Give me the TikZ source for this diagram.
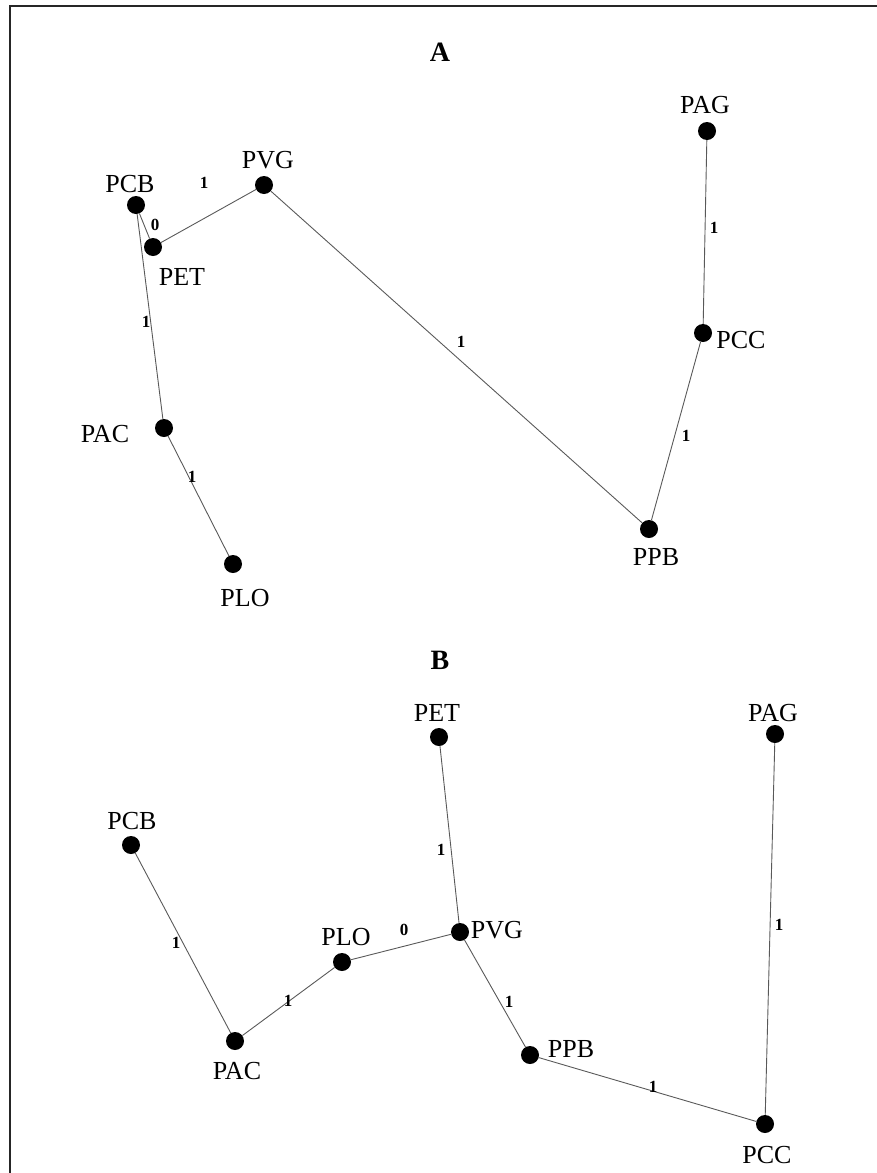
\documentclass[tikz,border=0pt]{standalone}
\usepackage{fontspec}
\setmainfont{Liberation Serif}
\begin{document}
\begin{tikzpicture}[x=1pt,y=-1pt,
  vert/.style={circle,fill=black,inner sep=0pt,minimum size=18pt},
  lbl/.style={font=\fontsize{26}{28}\selectfont,inner sep=0pt},
  wt/.style={font=\fontsize{17}{18}\selectfont\bfseries,inner sep=0pt},
  ttl/.style={font=\fontsize{28}{30}\selectfont\bfseries,inner sep=0pt},
  edge/.style={draw=black!65,line width=0.9pt}]
\useasboundingbox (0,0) rectangle (877,1173);
\begin{scope}
\clip (0,0) rectangle (877,1173);
\draw[line width=2pt,black!85] (10,1190) -- (10,6) -- (890,6);
\end{scope}

% ---------- panel A ----------
\node[ttl] (tA) at (440,52) {A};
\node[vert] (aPAG) at (707,131) {};
\node[vert] (aPCC) at (703,333) {};
\node[vert] (aPPB) at (649,529) {};
\node[vert] (aPVG) at (264,185) {};
\node[vert] (aPCB) at (136,205) {};
\node[vert] (aPET) at (153,247) {};
\node[vert] (aPAC) at (164,428) {};
\node[vert] (aPLO) at (233,564) {};
\node[lbl] (laPAG) at (705,105) {PAG};
\node[lbl] (laPCC) at (741,340) {PCC};
\node[lbl] (laPPB) at (656,557) {PPB};
\node[lbl] (laPVG) at (268,160) {PVG};
\node[lbl] (laPCB) at (130,184) {PCB};
\node[lbl] (laPET) at (182,277) {PET};
\node[lbl] (laPAC) at (105,434) {PAC};
\node[lbl] (laPLO) at (245,598) {PLO};
\draw[edge] (aPAG) -- (aPCC);
\draw[edge] (aPCC) -- (aPPB);
\draw[edge] (aPVG) -- (aPPB);
\draw[edge] (aPVG) -- (aPET);
\draw[edge] (aPCB) -- (aPET);
\draw[edge] (aPCB) -- (aPAC);
\draw[edge] (aPAC) -- (aPLO);
\node[wt] (waPAGPCC) at (714,228) {1};
\node[wt] (waPCCPPB) at (686,436) {1};
\node[wt] (waPVGPPB) at (461,342) {1};
\node[wt] (waPVGPET) at (204,183) {1};
\node[wt] (waPCBPET) at (155,225) {0};
\node[wt] (waPCBPAC) at (146,322) {1};
\node[wt] (waPACPLO) at (192,477) {1};

% ---------- panel B ----------
\node[ttl] (tB) at (440,660) {B};
\node[vert] (bPET) at (439,737) {};
\node[vert] (bPAG) at (775,734) {};
\node[vert] (bPCB) at (131,845) {};
\node[vert] (bPVG) at (460,932) {};
\node[vert] (bPLO) at (342,962) {};
\node[vert] (bPAC) at (235,1041) {};
\node[vert] (bPPB) at (530,1055) {};
\node[vert] (bPCC) at (765,1124) {};
\node[lbl] (lbPET) at (437,713) {PET};
\node[lbl] (lbPAG) at (773,713) {PAG};
\node[lbl] (lbPCB) at (132,821) {PCB};
\node[lbl] (lbPVG) at (497,930) {PVG};
\node[lbl] (lbPLO) at (346,937) {PLO};
\node[lbl] (lbPAC) at (237,1071) {PAC};
\node[lbl] (lbPPB) at (571,1049) {PPB};
\node[lbl] (lbPCC) at (767,1155) {PCC};
\draw[edge] (bPCB) -- (bPAC);
\draw[edge] (bPAC) -- (bPLO);
\draw[edge] (bPLO) -- (bPVG);
\draw[edge] (bPET) -- (bPVG);
\draw[edge] (bPVG) -- (bPPB);
\draw[edge] (bPPB) -- (bPCC);
\draw[edge] (bPAG) -- (bPCC);
\node[wt] (wbPCBPAC) at (176,943) {1};
\node[wt] (wbPACPLO) at (288,1001) {1};
\node[wt] (wbPLOPVG) at (404,930) {0};
\node[wt] (wbPETPVG) at (441,850) {1};
\node[wt] (wbPVGPPB) at (509,1002) {1};
\node[wt] (wbPPBPCC) at (653,1087) {1};
\node[wt] (wbPAGPCC) at (779,925) {1};
\end{tikzpicture}
\end{document}
